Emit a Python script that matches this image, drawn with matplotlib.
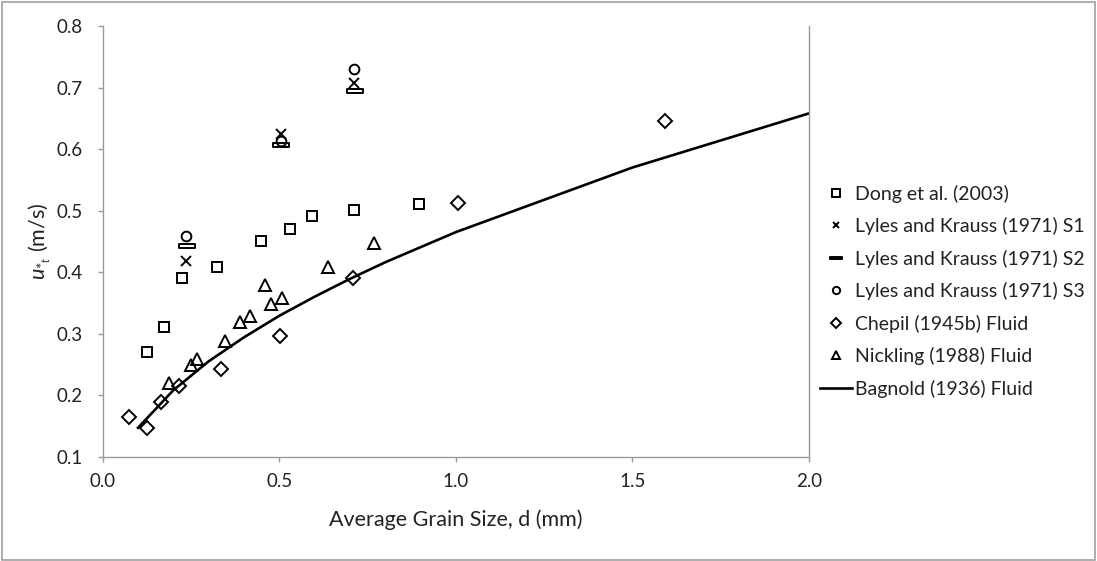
import matplotlib
matplotlib.use("Agg")
import matplotlib.pyplot as plt
from matplotlib.path import Path
from matplotlib.patches import Rectangle

plt.rcParams['font.family'] = ['Lato', 'DejaVu Sans']
plt.rcParams['mathtext.fontset'] = 'custom'
plt.rcParams['mathtext.it'] = 'Lato:italic'
plt.rcParams['mathtext.rm'] = 'Lato'

# ---- data ----
dong_x = [0.126, 0.173, 0.225, 0.323, 0.449, 0.530, 0.592, 0.713, 0.897]
dong_y = [0.270, 0.310, 0.390, 0.409, 0.451, 0.470, 0.491, 0.501, 0.511]

lk1_x = [0.236, 0.504, 0.713]
lk1_y = [0.418, 0.624, 0.707]
lk2_x = [0.238, 0.504, 0.714]
lk2_y = [0.442, 0.607, 0.694]
lk3_x = [0.236, 0.504, 0.713]
lk3_y = [0.459, 0.613, 0.730]

chepil_x = [0.074, 0.125, 0.164, 0.216, 0.335, 0.503, 0.708, 1.007, 1.591]
chepil_y = [0.165, 0.147, 0.189, 0.215, 0.242, 0.296, 0.391, 0.513, 0.646]

nick_x = [0.187, 0.249, 0.268, 0.347, 0.390, 0.418, 0.460, 0.477, 0.508, 0.638, 0.769]
nick_y = [0.219, 0.249, 0.259, 0.288, 0.319, 0.329, 0.379, 0.348, 0.358, 0.408, 0.448]

bag_x = [0.10, 0.20, 0.30, 0.40, 0.50, 0.60, 0.70, 0.80, 1.00, 1.50, 2.00]
bag_y = [0.147, 0.208, 0.255, 0.294, 0.329, 0.360, 0.389, 0.416, 0.465, 0.570, 0.658]

xticks = [0.0, 0.5, 1.0, 1.5, 2.0]
yticks = [0.1, 0.2, 0.3, 0.4, 0.5, 0.6, 0.7, 0.8]

# ---- figure ----
fig = plt.figure(figsize=(10.97, 5.61), dpi=100)
# axes: x 102.7..809 px, y 26..456.7 px (from top)
ax = fig.add_axes([102.7 / 1097, (561 - 456.7) / 561, (809 - 102.7) / 1097, (456.7 - 26) / 561])

bar_marker = Path([(-1, -0.22), (1, -0.22), (1, 0.22), (-1, 0.22), (-1, -0.22)],
                  [Path.MOVETO, Path.LINETO, Path.LINETO, Path.LINETO, Path.CLOSEPOLY])

common = dict(linestyle='none', markerfacecolor='none', markeredgecolor='black', markeredgewidth=1.4)
ax.plot(dong_x, dong_y, marker='s', markersize=7, label='Dong et al. (2003)', **common)
ax.plot(lk1_x, lk1_y, marker='x', markersize=6.5, label='Lyles and Krauss (1971) S1', **common)
ax.plot(lk2_x, lk2_y, marker=bar_marker, markersize=11, label='Lyles and Krauss (1971) S2', **common)
ax.plot(lk3_x, lk3_y, marker='o', markersize=7, label='Lyles and Krauss (1971) S3', **common)
ax.plot(chepil_x, chepil_y, marker='D', markersize=7, label='Chepil (1945b) Fluid', **common)
ax.plot(nick_x, nick_y, marker='^', markersize=8, label='Nickling (1988) Fluid', **common)
ax.plot(bag_x, bag_y, color='black', linewidth=1.9, label='Bagnold (1936) Fluid')

ax.set_xlim(0, 2.0)
ax.set_ylim(0.1, 0.8)
ax.set_xticks(xticks)
ax.set_yticks(yticks)
ax.set_xticklabels([f'{v:.1f}' for v in xticks])
ax.set_yticklabels([f'{v:.1f}' for v in yticks])

gray = '#9a9a9a'
for s in ['left', 'bottom', 'right']:
    ax.spines[s].set_color(gray)
    ax.spines[s].set_linewidth(1.0)
ax.spines['top'].set_visible(False)
ax.tick_params(axis='both', colors=gray, labelcolor='#222222', labelsize=13.5,
               length=3.6, width=1.0, direction='out')
ax.tick_params(axis='x', pad=8)
ax.tick_params(axis='y', pad=11)

ax.set_xlabel('Average Grain Size, d (mm)', fontsize=15.5, color='#222222', labelpad=14)
ax.set_ylabel(r'$u_{*_{t}}$ (m/s)', fontsize=15.5, color='#222222', labelpad=2)

leg = fig.legend(loc='center left', bbox_to_anchor=(0.7475, 0.481), frameon=False,
                 fontsize=14, handlelength=1.65, handletextpad=0.15, labelspacing=0.74,
                 markerscale=0.75, borderpad=0, borderaxespad=0)
for t in leg.get_texts():
    t.set_color('#222222')

# outer chart border
fig.patches.append(Rectangle((0.002, 0.002), 0.996, 0.994, transform=fig.transFigure,
                             fill=False, edgecolor='#a0a0a0', linewidth=1.2))

fig.savefig('out.png', dpi=100)
